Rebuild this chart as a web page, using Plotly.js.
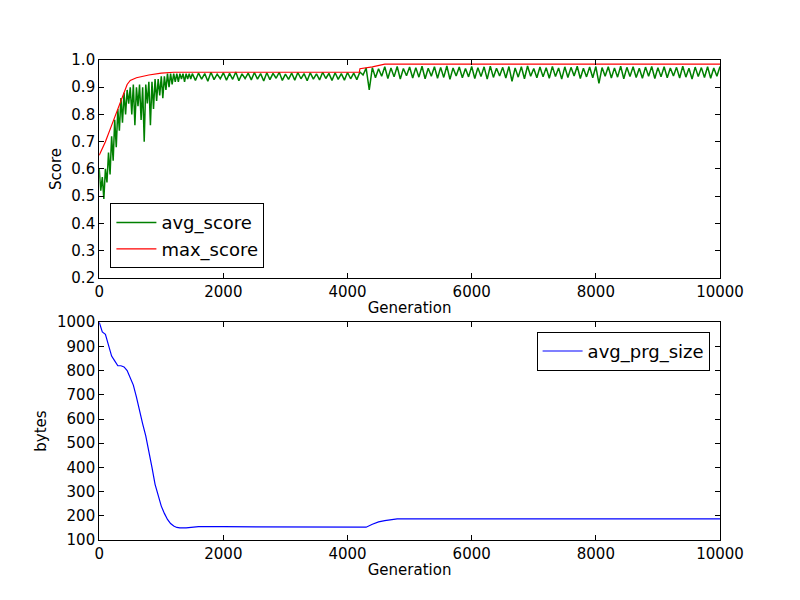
<!DOCTYPE html>
<html>
<head>
<meta charset="utf-8">
<script src="https://cdn.plot.ly/plotly-3.0.1.min.js"></script>
<style>body{margin:0;background:#fff}#plot{width:800px;height:600px}</style>
</head>
<body>
<div id="plot"></div>
<script>
// avg_score, generations 0..1500 step 25
var avgEarly = [0.60,0.52,0.57,0.49,0.60,0.55,0.66,0.58,0.72,0.63,0.78,0.68,0.82,0.74,0.86,0.77,0.88,0.80,0.89,0.84,
  0.90,0.80,0.91,0.76,0.90,0.83,0.91,0.78,0.90,0.70,0.91,0.84,0.92,0.76,0.92,0.82,0.93,0.85,0.93,0.87,
  0.94,0.86,0.94,0.89,0.95,0.90,0.95,0.91,0.95,0.92,0.95,0.92,0.95,0.93,0.95,0.92,0.95,0.93,0.95,0.93,0.95];
// avg_score, generations 1550..10000 step 50
var avgLate = [0.925,0.952,0.930,0.950,0.922,0.955,0.928,0.948,0.931,0.953,
  0.926,0.951,0.929,0.956,0.924,0.949,0.932,0.952,0.927,0.954,
  0.930,0.950,0.923,0.953,0.928,0.951,0.933,0.955,0.925,0.948,
  0.929,0.952,0.926,0.954,0.931,0.950,0.924,0.953,0.930,0.949,
  0.927,0.955,0.932,0.951,0.925,0.953,0.929,0.950,0.926,0.954,
  0.931,0.952,0.928,0.956,
  0.945,0.970,0.890,0.972,0.935,0.968,0.940,0.975,0.932,0.971,
  0.938,0.976,0.930,0.969,0.942,0.974,0.934,0.972,0.937,0.977,
  0.931,0.970,0.940,0.975,0.933,0.973,0.936,0.978,0.929,0.971,
  0.941,0.974,0.935,0.969,0.938,0.976,0.932,0.972,0.939,0.975,
  0.930,0.977,0.936,0.970,0.941,0.973,0.934,0.976,0.922,0.971,
  0.937,0.975,0.931,0.978,0.940,0.969,0.935,0.974,0.938,0.972,
  0.933,0.976,0.939,0.971,0.930,0.975,0.936,0.973,0.941,0.977,
  0.932,0.970,0.938,0.974,0.935,0.976,0.914,0.972,0.940,0.975,
  0.934,0.971,0.937,0.977,0.931,0.973,0.939,0.975,0.936,0.970,
  0.933,0.974,0.940,0.976,0.932,0.972,0.938,0.975,0.935,0.971,
  0.941,0.973,0.934,0.977,0.937,0.970,0.930,0.974,0.939,0.972,
  0.936,0.975,0.933,0.971,0.940,0.976];
var maxGen = [0,100,200,300,400,450,500,600,800,1000,1200,2000,4190,4200,4400,4600,10000];
var maxScore = [0.65,0.70,0.76,0.82,0.88,0.91,0.925,0.935,0.945,0.952,0.955,0.955,0.955,0.968,0.975,0.985,0.985];
var sizeGen = [0,50,100,150,200,250,300,350,400,450,500,550,600,650,700,750,800,850,900,950,1000,1050,1100,1150,1200,1250,1300,1400,1500,1600,2000,2600,3400,4200,4300,4400,4500,4600,4700,4800,10000];
var sizeVal = [1000,960,950,900,860,840,820,820,815,800,770,740,690,630,580,530,470,400,330,280,240,210,185,168,158,152,150,150,153,155,155,155,152,153,153,165,175,180,185,187,187];

var avgGen = [], avgScore = [];
for (var i = 0; i < avgEarly.length; i++) { avgGen.push(i * 25); avgScore.push(avgEarly[i]); }
for (var j = 0; j < avgLate.length; j++) { avgGen.push(1550 + j * 50); avgScore.push(avgLate[j]); }

var fnt = {family: 'DejaVu Sans', size: 15, color: '#000'};
function ax(extra) {
  var a = {showline: true, linecolor: '#000', linewidth: 1, mirror: 'ticks', ticks: 'inside', ticklen: 5,
    tickcolor: '#000', showgrid: false, zeroline: false, tickfont: fnt};
  for (var k in extra) a[k] = extra[k];
  return a;
}

var data = [
  {x: avgGen, y: avgScore, type: 'scatter', mode: 'lines', name: 'avg_score', line: {color: 'green', width: 1.5}, xaxis: 'x', yaxis: 'y', legend: 'legend'},
  {x: maxGen, y: maxScore, type: 'scatter', mode: 'lines', name: 'max_score', line: {color: 'red', width: 1.2}, xaxis: 'x', yaxis: 'y', legend: 'legend'},
  {x: sizeGen, y: sizeVal, type: 'scatter', mode: 'lines', name: 'avg_prg_size', line: {color: 'blue', width: 1.2}, xaxis: 'x2', yaxis: 'y2', legend: 'legend2'}
];

var legFont = {family: 'DejaVu Sans', size: 18, color: '#000'};
var layout = {
  width: 800, height: 600, margin: {l: 0, r: 0, t: 0, b: 0},
  paper_bgcolor: '#fff', plot_bgcolor: '#fff', font: fnt,
  xaxis: ax({domain: [0.124, 0.9], range: [0, 10000], dtick: 2000, tickformat: 'd', anchor: 'y', title: {text: 'Generation', font: fnt, standoff: 2}}),
  yaxis: ax({domain: [0.537, 0.9], range: [0.2, 1.0], dtick: 0.1, tickformat: '.1f', anchor: 'x', title: {text: 'Score', font: fnt, standoff: 6}}),
  xaxis2: ax({domain: [0.124, 0.9], range: [0, 10000], dtick: 2000, tickformat: 'd', anchor: 'y2', title: {text: 'Generation', font: fnt, standoff: 2}}),
  yaxis2: ax({domain: [0.1, 0.463], range: [100, 1000], dtick: 100, anchor: 'x2', title: {text: 'bytes', font: fnt, standoff: 6}}),
  legend: {x: 0.138, y: 0.553, xanchor: 'left', yanchor: 'bottom', bordercolor: '#000', borderwidth: 1, bgcolor: '#fff', font: legFont, itemwidth: 40},
  legend2: {x: 0.887, y: 0.447, xanchor: 'right', yanchor: 'top', bordercolor: '#000', borderwidth: 1, bgcolor: '#fff', font: legFont, itemwidth: 40}
};

Plotly.newPlot('plot', data, layout, {staticPlot: true});
</script>
</body>
</html>
